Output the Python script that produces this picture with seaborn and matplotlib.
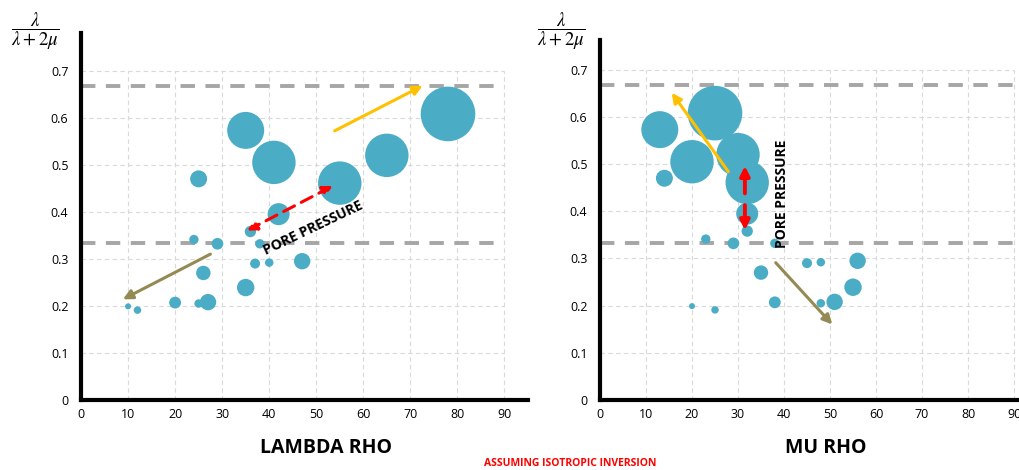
import numpy as np
import pandas as pd
import matplotlib
matplotlib.use("Agg")
import matplotlib.pyplot as plt
import seaborn as sns

# ─── Data ────────────────────────────────────────────────────────────────────
lambda_rho = [78, 35, 41, 65, 55, 25, 42, 36, 24, 29, 38, 47, 37, 40, 26, 35, 27, 25, 20, 10, 12]
mu_rho     = [25, 13, 20, 30, 32, 14, 32, 32, 23, 29, 38, 56, 45, 48, 35, 55, 51, 48, 38, 20, 25]
ratio      = [0.608, 0.573, 0.505, 0.520, 0.461, 0.470, 0.395, 0.358, 0.341, 0.332, 0.332,
              0.295, 0.290, 0.292, 0.270, 0.239, 0.208, 0.205, 0.207, 0.199, 0.191]
bubble     = [745, 342, 471, 471, 471, 72, 121, 32, 22, 34, 22, 67, 25, 18, 52, 76, 67, 18, 35, 9, 14]

x_ticks = [0, 10, 20, 30, 40, 50, 60, 70, 80, 90]
y_ticks = [0, 0.1, 0.2, 0.3, 0.4, 0.5, 0.6, 0.7]
y_tick_labels = ["0", "0.1", "0.2", "0.3", "0.4", "0.5", "0.6", "0.7"]
ref_levels = [1 / 3, 2 / 3]

df = pd.DataFrame({"lambda_rho": lambda_rho, "mu_rho": mu_rho,
                   "ratio": ratio, "bubble": bubble})

# ─── Style ───────────────────────────────────────────────────────────────────
sns.set_style("white")
plt.rcParams["font.family"] = ["Open Sans", "DejaVu Sans"]
plt.rcParams["mathtext.fontset"] = "stix"
plt.rcParams["text.color"] = "black"
plt.rcParams["xtick.labelcolor"] = "black"
plt.rcParams["ytick.labelcolor"] = "black"

BUBBLE = "#4BACC6"
YELLOW = "#FFC000"
OLIVE = "#948A54"
RED = "#FF0000"
GRID = "#D9D9D9"
REF = "#A6A6A6"


def panel(ax, xcol, xmax, ymax, ref_end, label, label_x):
    # light dashed grid inside the 0-90 x 0-0.7 plot area
    ax.vlines(x_ticks[1:], 0, 0.7, colors=GRID, linestyles=(0, (4, 3)), lw=0.8, zorder=0)
    ax.hlines(y_ticks[1:], 0, 90, colors=GRID, linestyles=(0, (4, 3)), lw=0.8, zorder=0)
    for lev in ref_levels:
        ax.plot([0, ref_end], [lev, lev], color=REF, lw=2.8,
                dashes=(3.7, 2.7), zorder=1, solid_capstyle="butt")

    sns.scatterplot(data=df, x=xcol, y="ratio", size="bubble", sizes=(0, 1545),
                    size_norm=(0, 745), color=BUBBLE, linewidth=0, legend=False,
                    ax=ax, zorder=2, alpha=1)

    ax.set_xlim(0, xmax)
    ax.set_ylim(0, ymax)
    ax.set_xticks(x_ticks)
    ax.set_xticklabels([str(t) for t in x_ticks])
    ax.set_yticks(y_ticks)
    ax.set_yticklabels(y_tick_labels)
    ax.tick_params(axis="x", length=3, width=0.8, color="#808080", labelsize=9, pad=3,
                   labelcolor="black")
    ax.tick_params(axis="y", length=0, labelsize=9, pad=9, labelcolor="black")
    for s in ["top", "right"]:
        ax.spines[s].set_visible(False)
    for s in ["left", "bottom"]:
        ax.spines[s].set_linewidth(3)
        ax.spines[s].set_color("black")
    ax.set_xlabel("")
    ax.set_ylabel("")
    ax.text(label_x, -0.102, label, transform=ax.transData, ha="center", va="center",
            fontsize=14, fontweight="bold", color="black", clip_on=False)


def arrow(ax, start, end, color, style="-|>", lw=2.2, ls="-", scale=14):
    ax.annotate("", xy=end, xytext=start,
                arrowprops=dict(arrowstyle=style, color=color, lw=lw, linestyle=ls,
                                mutation_scale=scale, shrinkA=0, shrinkB=0),
                zorder=5)


fig = plt.figure(figsize=(10.2, 4.7), dpi=100)
ax1 = fig.add_axes([81 / 1020, 70 / 470, 447 / 1020, 367 / 470])
ax2 = fig.add_axes([600 / 1020, 70 / 470, 420 / 1020, 360 / 470])

panel(ax1, "lambda_rho", 95, 0.78, 90, "LAMBDA RHO", 52)
panel(ax2, "mu_rho", 91.3, 0.763, 91.3, "MU RHO", 49)

# left panel annotations
arrow(ax1, (53.9, 0.572), (72.6, 0.668), YELLOW)
arrow(ax1, (27.5, 0.310), (8.9, 0.214), OLIVE)
arrow(ax1, (53.5, 0.455), (35.3, 0.360), RED, style="<|-|>", ls=(0, (4, 2.5)))
ax1.text(49.4, 0.366, "PORE PRESSURE", rotation=25.5, ha="center", va="center",
         fontsize=10, fontweight="bold", rotation_mode="anchor", zorder=6)

# right panel annotations
arrow(ax2, (27.9, 0.484), (15.6, 0.651), YELLOW)
arrow(ax2, (38.2, 0.291), (50.5, 0.160), OLIVE)
arrow(ax2, (31.5, 0.438), (31.5, 0.496), RED, lw=2.8)
arrow(ax2, (31.5, 0.413), (31.5, 0.360), RED, lw=2.8)
ax2.text(39.5, 0.438, "PORE PRESSURE", rotation=90, ha="center", va="center",
         fontsize=10, fontweight="bold", zorder=6)

# axis titles (fractions)
frac = r"$\dfrac{\lambda}{\lambda+2\mu}$"
fig.text(35 / 1020, 1 - 31 / 470, frac, ha="center", va="center", fontsize=13.5)
fig.text(561 / 1020, 1 - 31 / 470, frac, ha="center", va="center", fontsize=13.5)

fig.text(570 / 1020, 1 - 463 / 470, "ASSUMING ISOTROPIC INVERSION", color=RED,
         ha="center", va="center", fontsize=7.5, fontweight="bold")

fig.savefig("out.png", dpi=100)
